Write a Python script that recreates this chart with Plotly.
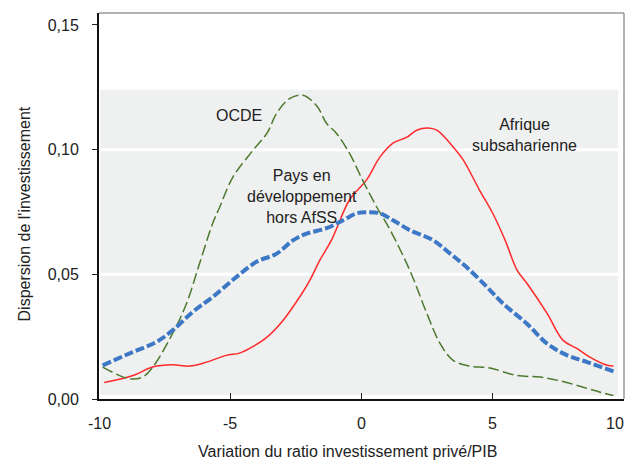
import plotly.graph_objects as go

# Afrique subsaharienne (red)
afr_x = [-9.8, -8.7, -7.96, -7.2, -6.55, -5.9, -5.15, -4.65, -4.14, -3.6, -2.99, -2.35, -1.97, -1.59, -1.13, -0.45,
         0.2, 0.7, 1.2, 1.73, 2.1, 2.53, 2.87, 3.5, 3.88, 4.5, 5.0, 5.47, 5.93, 6.3, 7.07, 7.68, 8.2, 8.7, 9.36, 9.6]
afr_y = [0.0066, 0.0094, 0.0128, 0.0137, 0.0132, 0.0148, 0.0175, 0.0184, 0.021, 0.0248, 0.0315, 0.041, 0.0476, 0.0556,
         0.064, 0.080, 0.088, 0.097, 0.1026, 0.105, 0.1078, 0.1087, 0.1078, 0.101, 0.0958, 0.0837, 0.0745, 0.0637,
         0.0516, 0.0464, 0.0343, 0.0235, 0.0203, 0.0168, 0.0135, 0.0132]

# OCDE (green dashed)
ocde_x = [-9.86, -8.84, -8.34, -7.95, -7.2, -6.67, -6.17, -5.67, -5.4, -4.9, -4.13, -3.6, -3.23, -2.74, -2.23, -1.7,
          -1.33, -0.95, -0.45, 0.05, 0.58, 1.08, 1.84, 2.49, 2.99, 3.49, 4.13, 4.9, 5.93, 6.81, 7.68, 8.45, 9.1, 9.6]
ocde_y = [0.0128, 0.0081, 0.0088, 0.0128, 0.0262, 0.0382, 0.0543, 0.0704, 0.077, 0.089, 0.0998, 0.1066, 0.1146,
          0.1205, 0.1218, 0.1175, 0.1105, 0.1065, 0.0984, 0.0876, 0.077, 0.068, 0.0516, 0.0343, 0.0223, 0.0155,
          0.0132, 0.0124, 0.0094, 0.0088, 0.007, 0.0047, 0.0027, 0.0014]

# Pays en développement hors AfSS (blue thick dashed)
pdev_x = [-9.86, -8.72, -7.83, -7.2, -6.43, -5.67, -4.77, -4.0, -3.23, -2.6, -2.1, -1.33, -0.7, -0.18, 0.2, 0.7,
          1.2, 1.84, 2.72, 3.37, 4.0, 4.78, 5.4, 6.3, 7.07, 7.84, 8.6, 9.67]
pdev_y = [0.0135, 0.0188, 0.0228, 0.0275, 0.0349, 0.0409, 0.0489, 0.055, 0.0583, 0.0637, 0.0663, 0.0685, 0.0717,
          0.0745, 0.0749, 0.0745, 0.0717, 0.0677, 0.0637, 0.0584, 0.0529, 0.0449, 0.0382, 0.0302, 0.0222, 0.0175,
          0.0148, 0.0108]

x_ticks = [-10, -5, 0, 5, 10]
x_tick_labels = ["-10", "-5", "0", "5", "10"]
y_ticks = [0.0, 0.05, 0.10, 0.15]
y_tick_labels = ["0,00", "0,05", "0,10", "0,15"]

x_title = "Variation du ratio investissement privé/PIB"
y_title = "Dispersion de l'investissement"

FONT = "Liberation Sans, Arial, sans-serif"

fig = go.Figure()

# grey band and white gridlines
fig.add_shape(type="rect", xref="x", yref="y", x0=-9.95, x1=9.78, y0=0.0015, y1=0.124,
              fillcolor="#eff0f0", line_width=0, layer="below")
for gy in [0.05, 0.10]:
    fig.add_shape(type="line", xref="x", yref="y", x0=-9.95, x1=9.78, y0=gy, y1=gy,
                  line=dict(color="white", width=3), layer="below")

fig.add_trace(go.Scatter(x=afr_x, y=afr_y, mode="lines", line=dict(color="#ff2a2a", width=1.5, shape="spline"),
                         name="Afrique subsaharienne"))
fig.add_trace(go.Scatter(x=ocde_x, y=ocde_y, mode="lines",
                         line=dict(color="#4d7a2e", width=1.5, dash="11px,4px", shape="spline"), name="OCDE"))
fig.add_trace(go.Scatter(x=pdev_x, y=pdev_y, mode="lines",
                         line=dict(color="#3d78c6", width=4, dash="9px,3px", shape="spline"),
                         name="Pays en développement hors AfSS"))

# thin grey frame top/right
fig.add_shape(type="line", xref="paper", yref="paper", x0=0, x1=1, y0=1, y1=1, line=dict(color="#666", width=1))
fig.add_shape(type="line", xref="paper", yref="paper", x0=1, x1=1, y0=0, y1=1, line=dict(color="#666", width=1))

ann_font = dict(family=FONT, size=16, color="#222")
fig.add_annotation(x=-4.65, y=0.1135, text="OCDE", showarrow=False, font=ann_font)
fig.add_annotation(x=-2.27, y=0.0813, text="Pays en<br>développement<br>hors AfSS", showarrow=False, font=ann_font)
fig.add_annotation(x=6.2, y=0.1058, text="Afrique<br>subsaharienne", showarrow=False, font=ann_font)

# x tick labels placed as text; the last one is right-anchored so it stays inside the visible page
n_ticks = len(x_ticks)
for i, (tv, tl) in enumerate(zip(x_ticks, x_tick_labels)):
    last = i == n_ticks - 1
    fig.add_annotation(x=tv, xref="x", y=0, yref="paper", text=tl, showarrow=False,
                       xanchor="right" if last else "center", xshift=2 if last else 0,
                       yanchor="top", yshift=-14, font=ann_font)

# axis titles
fig.add_annotation(xref="paper", yref="paper", x=0.4724, y=-0.1373, text=x_title, showarrow=False,
                   xanchor="center", yanchor="middle", font=ann_font)
fig.add_annotation(xref="paper", yref="paper", x=-0.141, y=0.4806, text=y_title, showarrow=False,
                   textangle=-90, xanchor="center", yanchor="middle", font=ann_font)

# the page body has an 8px margin, so the figure is sized to fit the 633x463 window
fig.update_layout(
    width=625, height=455,
    margin=dict(l=91, r=9, t=5, b=64),
    paper_bgcolor="white", plot_bgcolor="white",
    showlegend=False,
    font=dict(family=FONT, size=16, color="#222"),
    xaxis=dict(range=[-10, 10], tickvals=x_ticks, showticklabels=False, ticks="inside", ticklen=6,
               tickcolor="#222",
               showline=True, linecolor="#111", linewidth=2, showgrid=False, zeroline=False, automargin=False),
    yaxis=dict(range=[0, 0.1548], tickvals=y_ticks, ticktext=y_tick_labels, ticks="outside", ticklen=5,
               tickcolor="#222", ticklabelstandoff=10, showline=True, linecolor="#111", linewidth=2,
               showgrid=False, zeroline=False, automargin=False),
)

fig.write_html("out.html")
